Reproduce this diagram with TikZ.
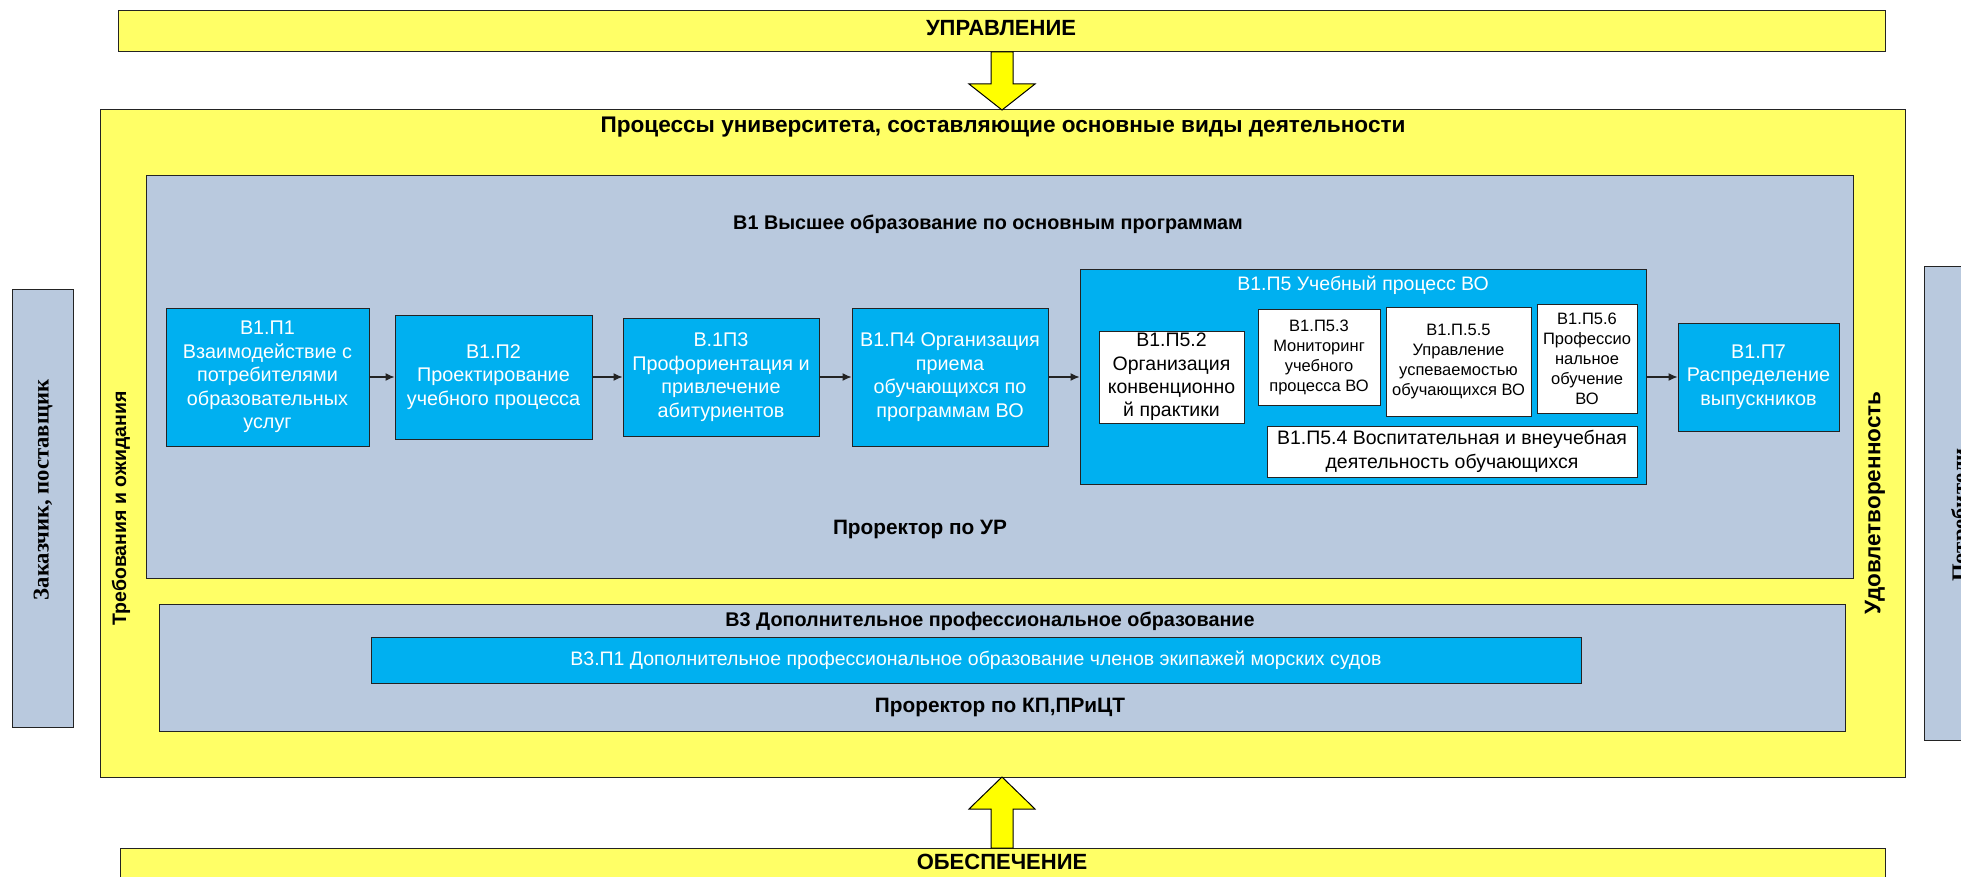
\documentclass[tikz,border=0pt]{standalone}
\usepackage{fontspec}
\setmainfont{Liberation Sans}
\newfontfamily\tnr{Liberation Serif}
\usetikzlibrary{arrows.meta,calc}
\definecolor{yel}{RGB}{255,255,102}
\definecolor{yelarrow}{RGB}{255,255,0}
\definecolor{graybl}{RGB}{185,201,222}
\definecolor{cyanbox}{RGB}{0,176,240}
\definecolor{edge}{RGB}{35,35,35}
\tikzset{
  area/.style={draw=edge, line width=1pt, inner sep=0pt},
  yelbox/.style={area, fill=yel},
  graybox/.style={area, fill=graybl},
  procbox/.style={draw=edge, line width=1pt, fill=cyanbox, text=white, align=center, inner sep=0pt, font=\fontsize{19.8}{23.5}\selectfont},
  subbox/.style={draw=edge, line width=1pt, fill=white, text=black, align=center, inner sep=0pt, font=\fontsize{16.5}{20}\selectfont},
  bigsub/.style={subbox, font=\fontsize{19.5}{23.3}\selectfont},
  ttl/.style={font=\bfseries\fontsize{19.8}{23}\selectfont, inner sep=0pt},
  rector/.style={font=\bfseries\fontsize{20.8}{24}\selectfont, inner sep=0pt},
  bigttl/.style={font=\bfseries\fontsize{22}{26}\selectfont, inner sep=0pt},
  sidettl/.style={font=\tnr\bfseries\fontsize{22.6}{27}\selectfont, inner sep=0pt, rotate=90},
  flow/.style={draw=edge, line width=1.2pt, -{Latex[length=9pt,width=8pt]}},
  blockarrow/.style={draw=black, line width=1pt, fill=yelarrow, line join=miter},
}
\begin{document}
\begin{tikzpicture}[x=1pt,y=-1pt]
\useasboundingbox (0,0) rectangle (1961,877);
\clip (0,0) rectangle (1961,877);
\fill[white] (0,0) rectangle (1961,877);

% outer bands
\node[yelbox, minimum width=1767, minimum height=41] (upr) at (1001.5,31.5) {};
\node[bigttl] (uprt) at (1001,28) {УПРАВЛЕНИЕ};
\node[yelbox, minimum width=1765, minimum height=52] (obe) at (1002.5,874) {};
\node[bigttl] (obet) at (1002,862) {ОБЕСПЕЧЕНИЕ};

% side boxes
\node[graybox, minimum width=61, minimum height=438] (zak) at (42.5,508) {};
\node[sidettl] (zakt) at (43,490) {Заказчик, поставщик};
\node[graybox, minimum width=66, minimum height=473] (potr) at (1957,503.5) {};
\node[sidettl, anchor=north] (potrt) at (1951,515) {Потребители};

% main yellow
\node[yelbox, minimum width=1805, minimum height=667] (main) at (1002.5,443.5) {};
\node[bigttl, font=\bfseries\fontsize{22.6}{26}\selectfont] (maint) at (1003,127) {Процессы университета, составляющие основные виды деятельности};
\node[inner sep=0pt, rotate=90, font=\bfseries\fontsize{19.5}{23}\selectfont] (treb) at (121,508.5) {Требования и ожидания};
\node[inner sep=0pt, rotate=90, font=\bfseries\fontsize{22.5}{25}\selectfont] (udov) at (1875,503) {Удовлетворенность};

% block arrows
\draw[blockarrow] (991,52) -- (991,84) -- (969,84) -- (1002,110) -- (1035,84) -- (1013,84) -- (1013,52) -- cycle;
\draw[blockarrow] (991,848) -- (991,809) -- (969,809) -- (1002,777) -- (1035,809) -- (1013,809) -- (1013,848) -- cycle;

% B1
\node[graybox, minimum width=1707, minimum height=402] (b1) at (999.5,377) {};
\node[ttl] (b1t) at (988,224) {В1 Высшее образование по основным программам};
\node[rector] (b1r) at (920,529) {Проректор по УР};

\node[procbox, minimum width=203, minimum height=138] (p1) at (267.5,377) {В1.П1\\Взаимодействие с\\потребителями\\образовательных\\услуг};
\node[procbox, minimum width=197, minimum height=124] (p2) at (493.5,377) {В1.П2\\Проектирование\\учебного процесса};
\node[procbox, minimum width=196, minimum height=118] (p3) at (721,377) {В.1П3\\Профориентация и\\привлечение\\абитуриентов};
\node[procbox, minimum width=196, minimum height=138] (p4) at (950,377) {В1.П4 Организация\\приема\\обучающихся по\\программам ВО};
\node[procbox, minimum width=566, minimum height=214] (p5) at (1363,377) {};
\node[inner sep=0pt, text=white, font=\fontsize{19.5}{23}\selectfont] (p5t) at (1363,285) {В1.П5 Учебный процесс ВО};
\node[bigsub, minimum width=145, minimum height=92] (p52) at (1171.5,377) {В1.П5.2\\Организация\\конвенционно\\й практики};
\node[subbox, minimum width=122, minimum height=96] (p53) at (1319,357) {В1.П5.3\\Мониторинг\\учебного\\процесса ВО};
\node[subbox, minimum width=145, minimum height=109] (p55) at (1458.5,361.5) {В1.П.5.5\\Управление\\успеваемостью\\обучающихся ВО};
\node[subbox, minimum width=100, minimum height=109] (p56) at (1587,358.5) {В1.П5.6\\Профессио\\нальное\\обучение\\ВО};
\node[bigsub, minimum width=370, minimum height=51] (p54) at (1452,451.5) {В1.П5.4 Воспитательная и внеучебная\\деятельность обучающихся};
\node[procbox, minimum width=161, minimum height=108] (p7) at (1758.5,377) {В1.П7\\Распределение\\выпускников};

\draw[flow] (p1) -- (p2);
\draw[flow] (p2) -- (p3);
\draw[flow] (p3) -- (p4);
\draw[flow] (p4) -- (p5);
\draw[flow] (p5) -- (p7);

% B3
\node[graybox, minimum width=1686, minimum height=127] (b3) at (1002,667.5) {};
\node[ttl] (b3t) at (990,621) {В3 Дополнительное профессиональное образование};
\node[procbox, minimum width=1210, minimum height=46, font=\fontsize{19.5}{23}\selectfont] (b3p1) at (976,660) {В3.П1 Дополнительное профессиональное образование членов экипажей морских судов};
\node[rector] (b3r) at (1000,707) {Проректор по КП,ПРиЦТ};
\end{tikzpicture}
\end{document}
